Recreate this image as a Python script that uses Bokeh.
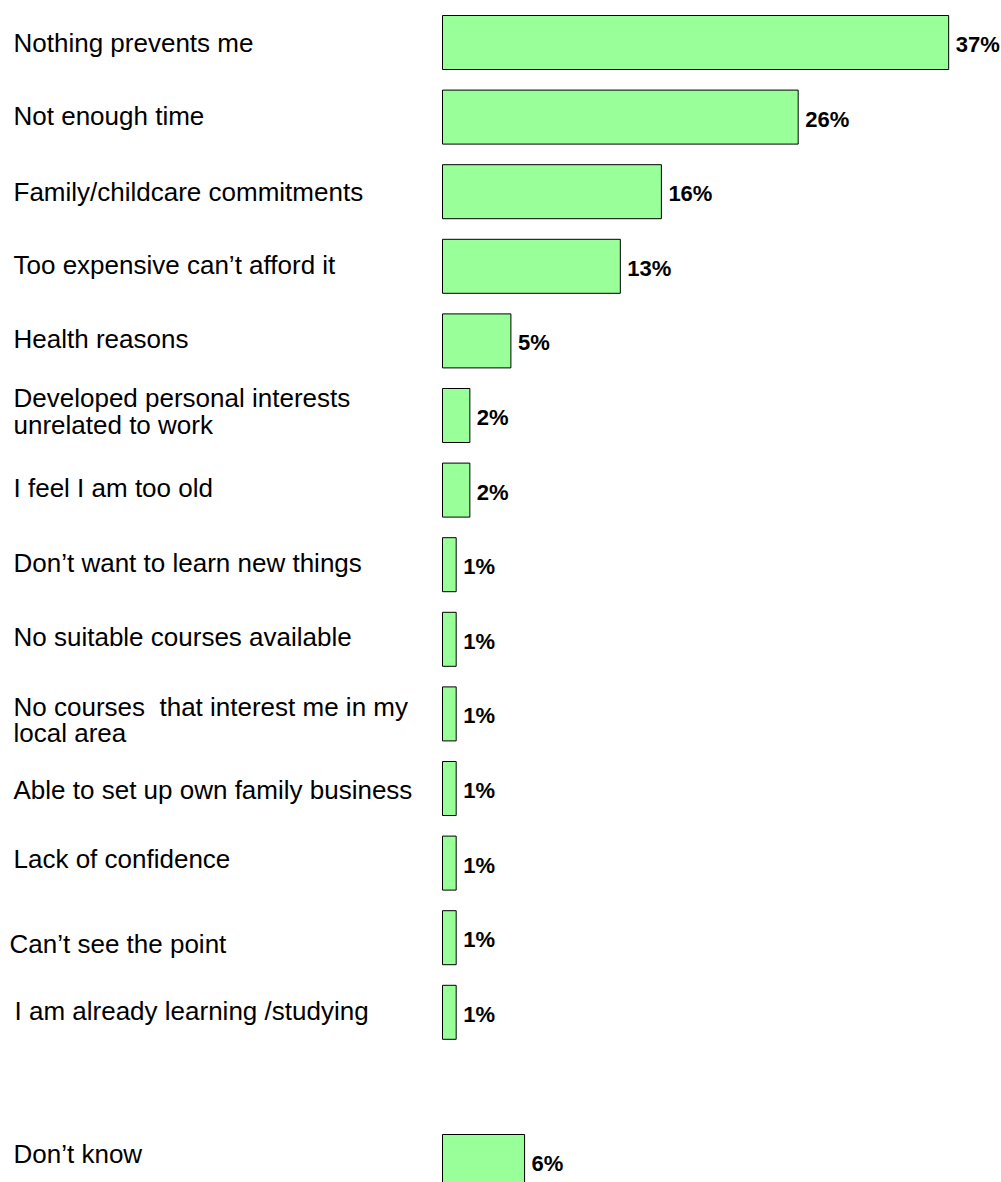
from bokeh.plotting import figure
from bokeh.models import Range1d, ColumnDataSource
from bokeh.core.properties import value
from bokeh.embed import file_html
from bokeh.resources import INLINE

categories = [
    "Nothing prevents me",
    "Not enough time",
    "Family/childcare commitments",
    "Too expensive can\u2019t afford it",
    "Health reasons",
    "Developed personal interests\nunrelated to work",
    "I feel I am too old",
    "Don\u2019t want to learn new things",
    "No suitable courses available",
    "No courses\u00a0 that interest me in my\nlocal area",
    "Able to set up own family business",
    "Lack of confidence",
    "Can\u2019t see the point",
    "I am already learning /studying",
    "Don\u2019t know",
]
values = [37, 26, 16, 13, 5, 2, 2, 1, 1, 1, 1, 1, 1, 1, 6]
rows = [0, 1, 2, 3, 4, 5, 6, 7, 8, 9, 10, 11, 12, 13, 15]

# layout (pixels)
W, H = 1001, 1182
X0 = 442          # pixel of 0%
PX_PER_PCT = 13.68
ROW_PX = 74.6
FIRST_CENTER = 42
BAR_PX = 54
label_dx = [0, 0, 0, 0, 0, 0, 0, 0, 0, 0, 0, 0, -4, 1, 0]
label_dy = [0, -1, 0, -1, -2, -4, -2, -2, -2, 6, 1, -4, 6, -1, -8]

p = figure(width=W, height=H, output_backend="svg", toolbar_location=None,
           x_range=Range1d(-X0 / PX_PER_PCT, (W - X0) / PX_PER_PCT),
           y_range=Range1d((H - FIRST_CENTER) / ROW_PX, -FIRST_CENTER / ROW_PX),
           x_axis_location=None, y_axis_location=None,
           min_border=0, min_border_left=0, min_border_right=0,
           min_border_top=0, min_border_bottom=0)
p.xgrid.visible = False
p.ygrid.visible = False
p.outline_line_color = None
p.background_fill_color = "white"

src = ColumnDataSource(dict(
    y=rows, v=values, cat=categories,
    pct=[f"{v}%" for v in values],
    lx=[-X0 / PX_PER_PCT] * len(values),
    ldx=[13 + d for d in label_dx], ldy=label_dy,
))

p.hbar(y="y", left=0, right="v", height=BAR_PX / ROW_PX, source=src,
       fill_color="#99FF99", line_color="black", line_width=1)

p.text(x="v", y="y", text="pct", source=src, x_offset=7, y_offset=2,
       text_font=value("Liberation Sans"), text_font_style="bold",
       text_font_size="22px", text_baseline="middle", text_align="left",
       text_color="black")

p.text(x="lx", y="y", text="cat", source=src, x_offset="ldx", y_offset="ldy",
       text_font=value("Liberation Sans"), text_font_size="26px",
       text_baseline="middle", text_align="left", text_color="black",
       text_line_height=0.88)

open("out.html", "w").write(file_html(p, INLINE))
